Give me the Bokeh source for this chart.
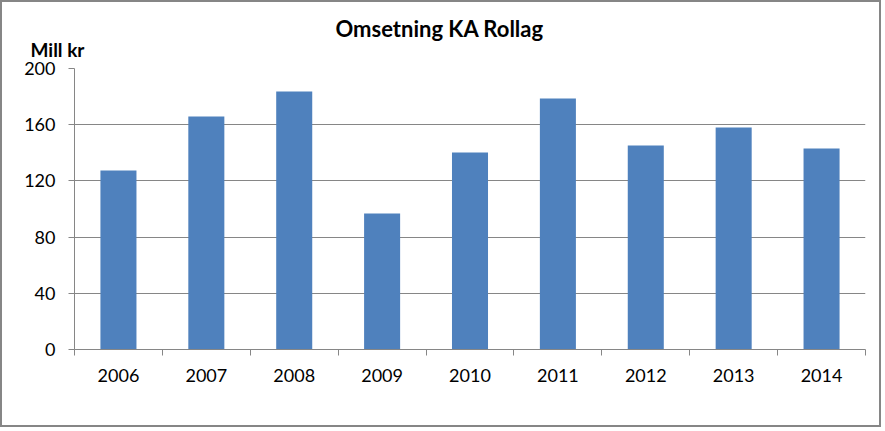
from bokeh.plotting import figure
from bokeh.models import FixedTicker, Title, Range1d, CustomJSTickFormatter
from bokeh.embed import file_html
from bokeh.resources import INLINE

years = ["2006", "2007", "2008", "2009", "2010", "2011", "2012", "2013", "2014"]
turnover = [127.4, 165.8, 183.6, 96.8, 140.2, 178.6, 145.2, 158.0, 143.0]
y_ticks = [0, 40, 80, 120, 160, 200]
title_text = "Omsetning KA Rollag"
unit_text = "Mill kr"

BAR = "#4F81BD"
GRAY = "#868686"
FONT = "Lato"

n = len(years)
centers = [i + 0.5 for i in range(n)]
edges = list(range(n + 1))

p = figure(width=881, height=427,
           x_range=Range1d(0, n), y_range=Range1d(min(y_ticks), max(y_ticks)),
           output_backend="svg", toolbar_location=None,
           styles={"border": "2px solid #868686"})
p.min_border_left = 72
p.min_border_right = 18
p.min_border_top = 66
p.min_border_bottom = 80
p.outline_line_color = None
p.background_fill_color = "white"
p.border_fill_color = "white"

p.vbar(x=centers, top=turnover, width=0.41, fill_color=BAR, line_color=None)

# x axis
xa = p.xaxis[0]
xa.ticker = FixedTicker(ticks=centers, minor_ticks=edges)
xa.formatter = CustomJSTickFormatter(args=dict(labels=years),
                                     code="return labels[Math.floor(tick)];")
xa.major_tick_out = 0
xa.major_tick_in = 0
xa.minor_tick_out = 6
xa.minor_tick_in = 0
xa.minor_tick_line_color = GRAY
xa.axis_line_color = GRAY
xa.major_label_text_font = FONT
xa.major_label_text_font_size = "18px"
xa.major_label_text_color = "black"
xa.major_label_standoff = 13

# y axis
ya = p.yaxis[0]
ya.ticker = FixedTicker(ticks=y_ticks)
ya.major_tick_out = 6
ya.major_tick_in = 0
ya.minor_tick_line_color = None
ya.major_tick_line_color = GRAY
ya.axis_line_color = GRAY
ya.major_label_text_font = FONT
ya.major_label_text_font_size = "18px"
ya.major_label_text_color = "black"
ya.major_label_standoff = 13

p.xgrid.visible = False
p.ygrid.grid_line_color = GRAY
p.ygrid.grid_line_width = 1

p.add_layout(Title(text=unit_text, align="left", offset=-44, standoff=15,
                   text_font=FONT, text_font_style="bold",
                   text_font_size="19px", text_color="black"), "above")
p.add_layout(Title(text=title_text, align="left", offset=261, standoff=-27,
                   text_font=FONT, text_font_style="bold",
                   text_font_size="22px", text_color="black"), "above")

open("out.html", "w").write(file_html(p, INLINE))
